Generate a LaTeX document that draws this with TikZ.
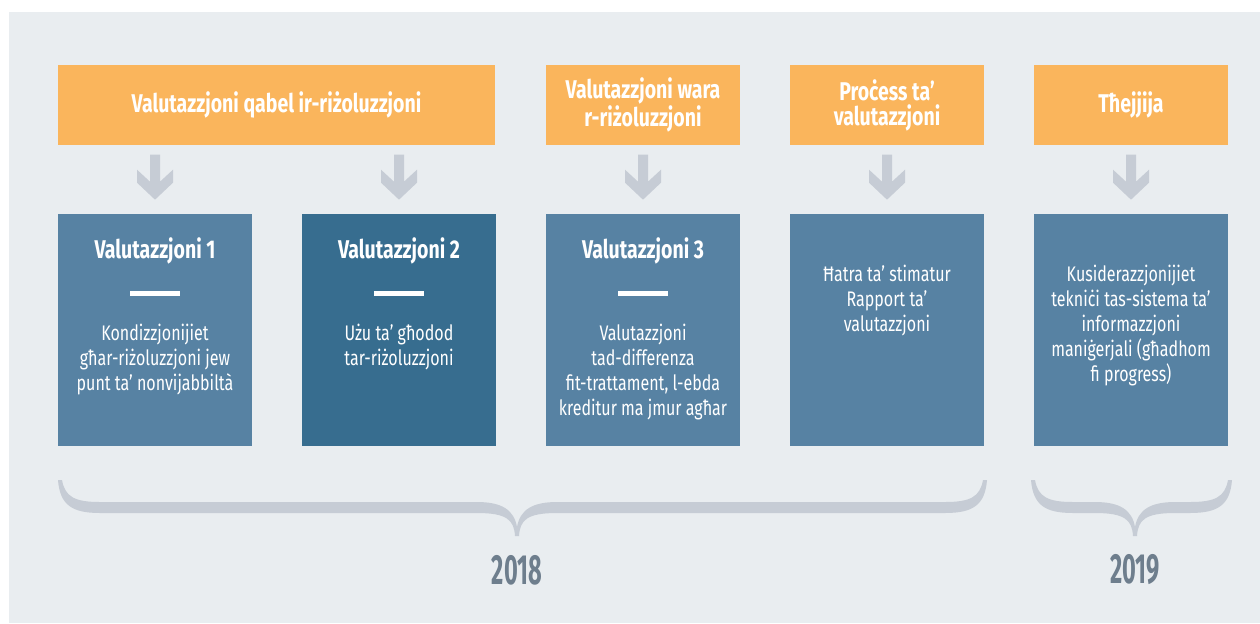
\documentclass[tikz,border=0pt]{standalone}
\usepackage{fontspec}
\setmainfont{Fira Sans}[FakeStretch=0.76]
\newfontfamily\yearfont{Fira Sans}[FakeStretch=0.56]
\usetikzlibrary{calc}

\definecolor{bggray}{HTML}{E9EDF0}
\definecolor{hdrorange}{HTML}{FAB55C}
\definecolor{valblue}{HTML}{5782A3}
\definecolor{valdark}{HTML}{376D8F}
\definecolor{arrowgray}{HTML}{C6CCD5}
\definecolor{yeargray}{HTML}{6E7E8D}

\begin{document}
\begin{tikzpicture}[x=0.02cm, y=-0.02cm,
    hdr/.style={fill=hdrorange, text=white, align=center, inner sep=0pt,
        minimum width=3.88cm, minimum height=1.6cm,
        font=\bfseries\fontsize{14.6}{14.2}\selectfont},
    valbox/.style={fill=valblue, minimum width=3.88cm, minimum height=4.64cm, inner sep=0pt},
    valtitle/.style={text=white, inner sep=0pt, font=\bfseries\fontsize{14.6}{16}\selectfont},
    valtext/.style={text=white, align=center, inner sep=0pt, anchor=north,
        font=\fontsize{12}{14.2}\selectfont},
    whitebar/.style={white, line width=2.6pt},
    yearlbl/.style={text=yeargray, font=\yearfont\bfseries\fontsize{24}{26}\selectfont}]

    % canvas
    \useasboundingbox (0,0) rectangle (1260,623);
    \fill[bggray] (9,12) rectangle (1260,623);

    % headers
    \node[hdr, minimum width=8.74cm] (hdrA) at (276.5,105) {Valutazzjoni qabel ir-riżoluzzjoni};
    \node[hdr] (hdrB) at (643,105) {Valutazzjoni wara\\r-riżoluzzjoni};
    \node[hdr] (hdrC) at (887,105) {Proċess ta’\\valutazzjoni};
    \node[hdr] (hdrD) at (1131,105) {Tħejjija};

    % boxes
    \foreach \n/\x in {valA/155, valC/643, valD/887, valE/1131}
        \node[valbox] (\n) at (\x,330) {};
    \node[valbox, fill=valdark] (valB) at (399,330) {};

    % arrows down to the boxes
    \foreach \b in {valA,valB,valC,valD,valE}
        \fill[arrowgray, shift={(\b.north)}] (-5,-59) -- (5,-59) -- (5,-32) -- (18,-44)
            -- (18,-31) -- (0,-14) -- (-18,-31) -- (-18,-44) -- (-5,-32) -- cycle;

    % titles and bars
    \foreach \b/\t in {valA/1, valB/2, valC/3} {
        \node[valtitle] (\b title) at ($(\b.north)+(0,37)$) {Valutazzjoni \t};
        \draw[whitebar] ($(\b.north)+(-25,80)$) -- ($(\b.north)+(25,80)$);
    }

    % box texts
    \node[valtext] (valAtext) at ($(valA.north)+(0,110)$)
        {Kondizzjonijiet\\għar-riżoluzzjoni jew\\punt ta’ nonvijabbiltà};
    \node[valtext] (valBtext) at ($(valB.north)+(0,110)$)
        {Użu ta’ għodod\\tar-riżoluzzjoni};
    \node[valtext] (valCtext) at ($(valC.north)+(0,110)$)
        {Valutazzjoni\\tad-differenza\\fit-trattament, l-ebda\\kreditur ma jmur agħar};
    \node[valtext] (valDtext) at ($(valD.north)+(0,51)$)
        {Ħatra ta’ stimatur\\Rapport ta’\\valutazzjoni};
    \node[valtext] (valEtext) at ($(valE.north)+(0,51)$)
        {Kusiderazzjonijiet\\tekniċi tas-sistema ta’\\informazzjoni\\maniġerjali (għadhom\\fi progress)};

    % braces
    \foreach \xl/\xc/\xr in {60/517/985, 1033/1135/1230}
        \fill[arrowgray] (\xl-2,480) -- (\xl+2,480)
            .. controls (\xl+5,497) and (\xl+15,502) .. (\xl+40,502) -- (\xc-40,502)
            .. controls (\xc-15,502) and (\xc-3,510) .. (\xc,527)
            .. controls (\xc+3,510) and (\xc+15,502) .. (\xc+40,502) -- (\xr-40,502)
            .. controls (\xr-15,502) and (\xr-5,497) .. (\xr-2,480) -- (\xr+2,480)
            .. controls (\xr,505) and (\xr-12,513) .. (\xr-40,513) -- (\xc+40,513)
            .. controls (\xc+10,513) and (\xc+3,520) .. (\xc+2,536) -- (\xc-2,536)
            .. controls (\xc-3,520) and (\xc-10,513) .. (\xc-40,513) -- (\xl+40,513)
            .. controls (\xl+12,513) and (\xl,505) .. (\xl-2,480) -- cycle;

    % years
    \node[yearlbl] (yr2018) at (517,570) {2018};
    \node[yearlbl] (yr2019) at (1135,570) {2019};
\end{tikzpicture}
\end{document}
